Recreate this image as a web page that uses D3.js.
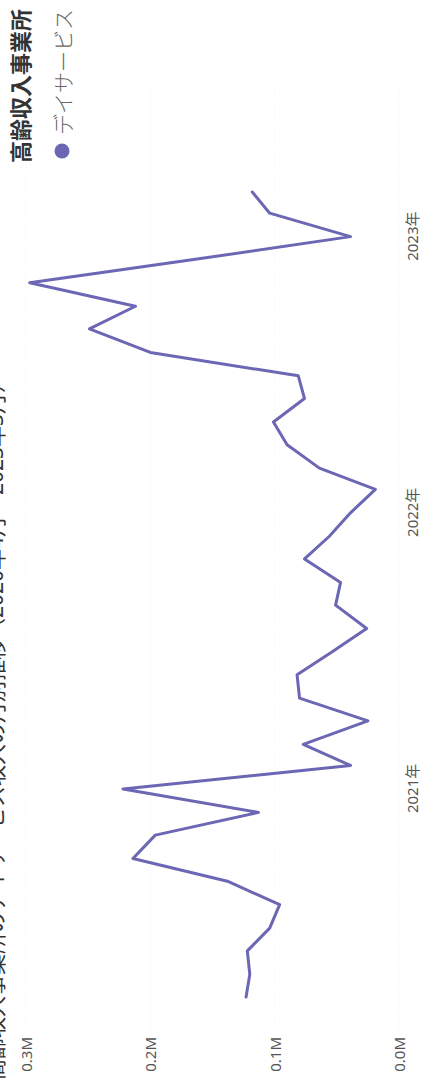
<!DOCTYPE html>
<html lang="ja">
<head>
<meta charset="utf-8">
<script src="https://cdn.jsdelivr.net/npm/d3@7"></script>
<style>
  html, body { margin: 0; padding: 0; background: #fff; overflow: hidden; }
  text { font-family: "Segoe UI", "Noto Sans", "Noto Sans CJK JP", sans-serif; }
</style>
</head>
<body>
<div id="chart"></div>
<script>
// monthly values (in M), April 2020 .. March 2023
const months = [
  "2020-04", "2020-05", "2020-06", "2020-07", "2020-08", "2020-09",
  "2020-10", "2020-11", "2020-12", "2021-01", "2021-02", "2021-03",
  "2021-04", "2021-05", "2021-06", "2021-07", "2021-08", "2021-09",
  "2021-10", "2021-11", "2021-12", "2022-01", "2022-02", "2022-03",
  "2022-04", "2022-05", "2022-06", "2022-07", "2022-08", "2022-09",
  "2022-10", "2022-11", "2022-12", "2023-01", "2023-02", "2023-03"
];
const dayService = [
  0.123, 0.120, 0.122, 0.104, 0.096, 0.138,
  0.214, 0.196, 0.113, 0.222, 0.039, 0.077,
  0.025, 0.080, 0.082, 0.054, 0.026, 0.051,
  0.047, 0.076, 0.056, 0.039, 0.019, 0.064,
  0.090, 0.101, 0.076, 0.081, 0.200, 0.249,
  0.212, 0.297, 0.168, 0.039, 0.104, 0.118
];
const valueTicks = [0, 0.1, 0.2, 0.3];
const yearTicks = ["2021-01", "2022-01", "2023-01"];

const seriesName = "デイサービス";
const legendTitle = "高齢収入事業所";
const chartTitle = "高齢収入事業所のデイサービス収入の月別推移（2020年4月～2023年3月）";

// the whole chart is drawn lying on its side
const pageW = 422, pageH = 1089;

const parseMonth = d3.timeParse("%Y-%m");
const data = months.map((m, i) => ({ date: parseMonth(m), value: dayService[i] }));

const xScale = d3.scaleTime()
  .domain([parseMonth("2020-04"), parseMonth("2023-03")])
  .range([92, 897]);

const yScale = d3.scaleLinear()
  .domain([0, 0.3])
  .range([399, 26]);

const svg = d3.select("#chart")
  .append("svg")
  .attr("width", pageW)
  .attr("height", pageH);

const chart = svg.append("g")
  .attr("transform", `translate(0, ${pageH}) rotate(-90)`);

// gridlines
chart.append("g")
  .selectAll("line")
  .data(valueTicks)
  .join("line")
  .attr("x1", 60)
  .attr("x2", 1000)
  .attr("y1", d => yScale(d))
  .attr("y2", d => yScale(d))
  .attr("stroke", "#f1f1f1")
  .attr("stroke-width", 1)
  .attr("stroke-dasharray", "1,2");

// value axis
const leftAxis = d3.axisLeft(yScale)
  .tickValues(valueTicks)
  .tickFormat(d => d.toFixed(1) + "M")
  .tickSize(0)
  .tickPadding(0);

const gy = chart.append("g")
  .attr("transform", "translate(52, 0)")
  .call(leftAxis);
gy.select(".domain").remove();
gy.selectAll("text")
  .attr("font-size", 15)
  .attr("fill", "#555")
  .attr("dy", "0.36em");

// time axis
const bottomAxis = d3.axisBottom(xScale)
  .tickValues(yearTicks.map(parseMonth))
  .tickFormat(d3.timeFormat("%Y年"))
  .tickSize(0)
  .tickPadding(0);

const gx = chart.append("g")
  .attr("transform", "translate(0, 407)")
  .call(bottomAxis);
gx.select(".domain").remove();
gx.selectAll("text")
  .attr("font-size", 15)
  .attr("fill", "#555")
  .attr("dy", "0.7em");

// the line
const line = d3.line()
  .x(d => xScale(d.date))
  .y(d => yScale(d.value));

chart.append("path")
  .datum(data)
  .attr("d", line)
  .attr("fill", "none")
  .attr("stroke", "#6b67b4")
  .attr("stroke-width", 3)
  .attr("stroke-linejoin", "round")
  .attr("stroke-linecap", "round");

// title, mostly cut off at the top edge like in the screenshot
chart.append("text")
  .attr("x", 9)
  .attr("y", 3)
  .attr("font-size", 21)
  .attr("fill", "#333")
  .text(chartTitle);

// legend
chart.append("text")
  .attr("x", 926)
  .attr("y", 29)
  .attr("font-size", 22)
  .attr("font-weight", "bold")
  .attr("fill", "#333")
  .text(legendTitle);

chart.append("circle")
  .attr("cx", 938)
  .attr("cy", 62)
  .attr("r", 7.5)
  .attr("fill", "#6b67b4");

chart.append("text")
  .attr("x", 954)
  .attr("y", 65)
  .attr("font-size", 21)
  .attr("font-weight", 300)
  .attr("fill", "#666")
  .attr("dominant-baseline", "middle")
  .text(seriesName);
</script>
</body>
</html>
